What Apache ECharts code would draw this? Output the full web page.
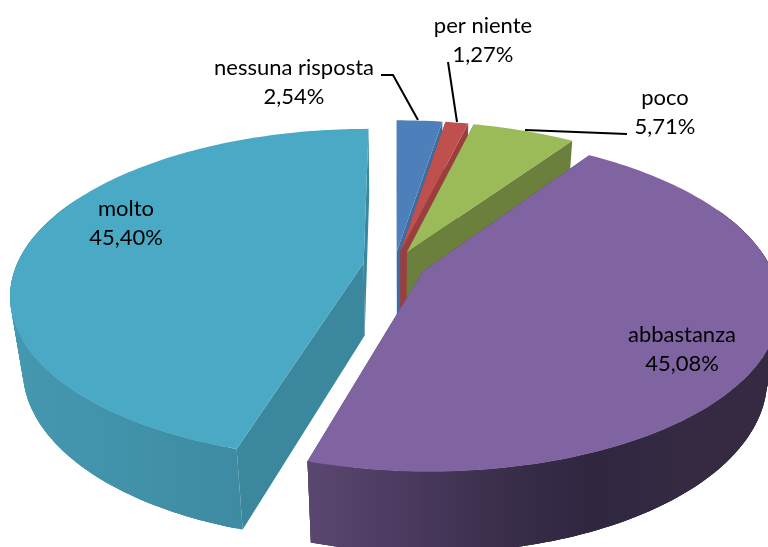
<!DOCTYPE html>
<html>
<head>
<meta charset="utf-8">
<style>
    html, body { margin: 0; padding: 0; background: #fff; }
    #chart { width: 768px; height: 547px; }
</style>
<script src="https://cdn.jsdelivr.net/npm/echarts@6/dist/echarts.min.js"></script>
</head>
<body>
<div id="chart"></div>
<script>
const categories = ['nessuna risposta', 'per niente', 'poco', 'abbastanza', 'molto'];
const values = [2.54, 1.27, 5.71, 45.08, 45.40];

// face / cut side / rim colours for each slice, rim runs left to right
const topColors = ['#4d80bb', '#c0504d', '#9bbb59', '#8064a2', '#4aa9c4'];
const cutColors = ['#3f6ca0', '#9a3f3d', '#6b803d', '#4f3f66', '#3a879e'];
const rimColors = [
    ['#3f6ca0', '#3f6ca0'],
    ['#9a3f3d', '#9a3f3d'],
    ['#6b803d', '#6b803d'],
    ['#5a4770', '#4b3b60', '#3b2f4c', '#2f2640', '#352a42', '#352a42'],
    ['#4598b0', '#3f8ea6', '#3b8499']
];

// the 3D view of the pie
const VIEW = { cx: 394.5, cy: 265, rx: 347, ry: 160, depth: 75, k: 0.188, m: 0.033, explode: 0.09 };

// text block centres and leader lines
const labelPos = [
    { x: 294, y: 82, line: [[381, 75], [393, 75], [418, 120]] },
    { x: 483, y: 40, line: [[448, 62], [457, 122]] },
    { x: 665, y: 112, line: [[525, 130], [627, 134]] },
    { x: 682, y: 349 },
    { x: 126, y: 223 }
];

const total = values.reduce(function (a, b) { return a + b; }, 0);

function project(gx, gy, z) {
    let w = 1 + VIEW.k * gy + VIEW.m * z;
    return [VIEW.cx + VIEW.rx * gx / w, VIEW.cy - (VIEW.ry * gy - VIEW.depth * z) / w];
}

function renderSlice(params, api) {
    let i = api.value(0);
    let start = api.value(1) / total * Math.PI * 2;
    let end = api.value(2) / total * Math.PI * 2;
    let mid = (start + end) / 2;
    let ex = Math.sin(mid) * VIEW.explode;
    let ey = Math.cos(mid) * VIEW.explode;
    let rimPoint = function (a, z) {
        return project(ex + Math.sin(a), ey + Math.cos(a), z);
    };
    let apexTop = project(ex, ey, 0);
    let apexBottom = project(ex, ey, 1);

    let arcTop = [];
    let arcBottom = [];
    let steps = Math.max(4, Math.ceil((end - start) / 0.02));
    for (let s = 0; s <= steps; s++) {
        let a = start + (end - start) * s / steps;
        arcTop.push(rimPoint(a, 0));
        arcBottom.push(rimPoint(a, 1));
    }

    let children = [
        {
            type: 'polygon',
            shape: { points: [apexTop, arcTop[0], arcBottom[0], apexBottom] },
            style: { fill: cutColors[i] }
        },
        {
            type: 'polygon',
            shape: { points: [apexTop, arcTop[steps], arcBottom[steps], apexBottom] },
            style: { fill: cutColors[i] }
        }
    ];

    // rim as overlapping quads: keeps the straight silhouette on the left and hides the seams.
    // the far part of the rim stays behind the top face anyway
    let xs = arcTop.map(function (p) { return p[0]; });
    let stops = rimColors[i].map(function (c, n) {
        return { offset: n / (rimColors[i].length - 1), color: c };
    });
    let rimFill = new echarts.graphic.LinearGradient(Math.min.apply(null, xs), 0, Math.max.apply(null, xs), 0, stops, true);
    for (let s = 0; s < steps; s++) {
        let a = start + (end - start) * (s + 0.5) / steps;
        if (Math.cos(a) > 0.4) {
            continue;
        }
        let next = Math.min(s + 3, steps);
        let quadTop = arcTop.slice(s, next + 1);
        let quadBottom = arcBottom.slice(s, next + 1).reverse();
        children.push({
            type: 'polygon',
            shape: { points: quadTop.concat(quadBottom) },
            style: { fill: rimFill }
        });
    }

    children.push({
        type: 'polygon',
        shape: { points: [apexTop].concat(arcTop) },
        style: { fill: topColors[i] }
    });
    return { type: 'group', children: children };
}

// molto goes before abbastanza, the front slice has to stay on top
let running = 0;
const rows = values.map(function (v, i) {
    let row = [i, running, running + v];
    running += v;
    return row;
});
const drawOrder = [0, 1, 2, 4, 3];

const labelGraphics = [];
categories.forEach(function (name, i) {
    let pos = labelPos[i];
    labelGraphics.push({
        type: 'text',
        x: pos.x,
        y: pos.y,
        silent: true,
        z: 10,
        style: {
            text: name + '\n' + values[i].toFixed(2).replace('.', ',') + '%',
            font: '22px Lato',
            lineHeight: 29,
            fill: '#000',
            align: 'center',
            verticalAlign: 'middle'
        }
    });
    if (pos.line) {
        labelGraphics.push({
            type: 'polyline',
            silent: true,
            z: 10,
            shape: { points: pos.line },
            style: { stroke: '#000', lineWidth: 2, fill: null }
        });
    }
});

const chart = echarts.init(document.getElementById('chart'));
chart.setOption({
    animation: false,
    backgroundColor: '#fff',
    series: [{
        type: 'custom',
        coordinateSystem: 'none',
        silent: true,
        renderItem: renderSlice,
        encode: { tooltip: [] },
        data: drawOrder.map(function (i) { return rows[i]; })
    }],
    graphic: labelGraphics
});
</script>
</body>
</html>
